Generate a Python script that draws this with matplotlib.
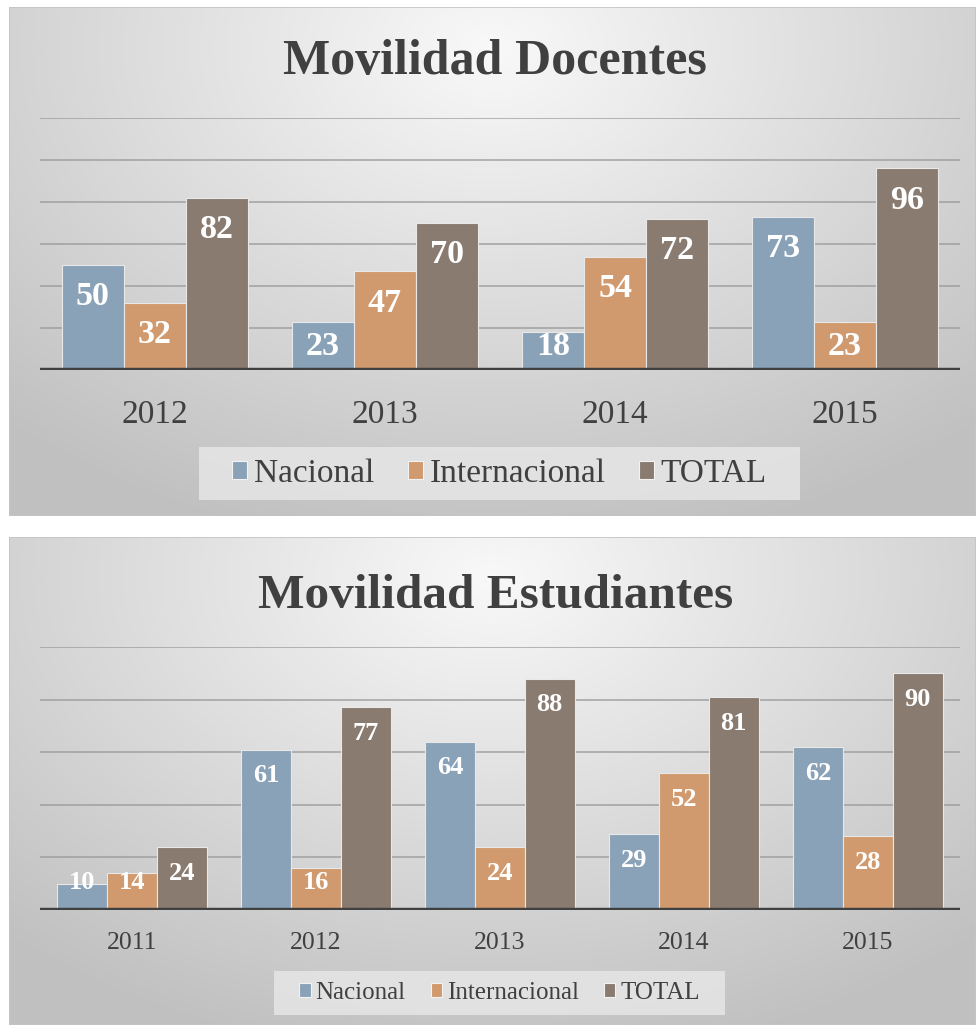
import numpy as np
import matplotlib.pyplot as plt
from matplotlib.patches import Rectangle, Patch

W, H = 978, 1025

series = ['Nacional', 'Internacional', 'TOTAL']
colores = ['#8aa2b8', '#d09a6e', '#8a7b70']

# Movilidad Docentes
doc_anios = ['2012', '2013', '2014', '2015']
doc_nacional = [50, 23, 18, 73]
doc_internacional = [32, 47, 54, 23]
doc_total = [82, 70, 72, 96]

# Movilidad Estudiantes
est_anios = ['2011', '2012', '2013', '2014', '2015']
est_nacional = [10, 61, 64, 29, 62]
est_internacional = [14, 16, 24, 52, 28]
est_total = [24, 77, 88, 81, 90]

plt.rcParams['font.family'] = ['Liberation Serif', 'DejaVu Serif']
texto = '#404040'

fig = plt.figure(figsize=(W / 100, H / 100), dpi=100)


def caja(x0, y0, x1, y1):
    # pixeles (origen arriba a la izquierda) -> fraccion de figura
    return [x0 / W, 1 - y1 / H, (x1 - x0) / W, (y1 - y0) / H]


def fondo(x0, y0, x1, y1):
    ax = fig.add_axes(caja(x0, y0, x1, y1), zorder=0)
    yy, xx = np.mgrid[0:1:300j, 0:1:300j]
    d = np.sqrt(((xx - 0.5) / 0.75) ** 2 + ((yy - 0.08) / 1.0) ** 2)
    g = 0.975 - 0.22 * np.clip(d, 0, 1)
    ax.imshow(np.dstack([g, g, g]), aspect='auto', extent=[0, 1, 1, 0],
              interpolation='bilinear')
    ax.add_patch(Rectangle((0, 0), 1, 1, transform=ax.transAxes, fill=False,
                           edgecolor='#c4c4c4', lw=1.2))
    ax.set_axis_off()


def grafico(marco, ejes, anios, valores, ymax, titulo, y_tit, fs_tit, fs_tick,
            pad_tick, fs_val, off, minimo, leg, fs_leg):
    fondo(*marco)
    ax = fig.add_axes(caja(*ejes), zorder=1)
    ax.patch.set_alpha(0)
    x = np.arange(len(anios))
    w = 0.27
    for i, (vals, c) in enumerate(zip(valores, colores)):
        pos = x + (i - 1) * w
        ax.bar(pos, vals, w, color=c, edgecolor='#e8e8e8', linewidth=0.8, zorder=2)
        for p, v in zip(pos, vals):
            ax.text(p, max(v - off, minimo), str(v), ha='center', va='center',
                    color='white', fontweight='bold', fontsize=fs_val, zorder=4)
    ax.set_xlim(-0.5, len(anios) - 0.5)
    ax.set_ylim(0, ymax)
    ax.set_yticks(np.arange(20, ymax + 1, 20))
    ax.yaxis.grid(True, color='#999999', lw=1.3, alpha=0.75)
    ax.set_axisbelow(True)
    ax.tick_params(axis='y', length=0, labelleft=False)
    ax.set_xticks(x)
    ax.set_xticklabels(anios, fontsize=fs_tick, color=texto)
    ax.tick_params(axis='x', length=0, pad=pad_tick)
    for s in ax.spines.values():
        s.set_visible(False)
    ax.axhline(0, color='#404040', lw=3.2, zorder=3)

    fig.text((marco[0] + marco[2]) / 2 / W + 0.003, 1 - y_tit / H, titulo,
             ha='center', va='baseline', fontsize=fs_tit, fontweight='bold',
             color=texto, zorder=5)

    lx0, ly0, lx1, ly1 = leg
    r = caja(lx0, ly0, lx1, ly1)
    fig.add_artist(Rectangle((r[0], r[1]), r[2], r[3], transform=fig.transFigure,
                             facecolor='#e6e6e6', edgecolor='none', alpha=0.85,
                             zorder=2))
    handles = [Patch(facecolor=c, edgecolor='#f2f2f2', lw=0.8) for c in colores]
    lg = fig.legend(handles, series, loc='center',
                    bbox_to_anchor=((lx0 + lx1) / 2 / W, 1 - (ly0 + ly1) / 2 / H),
                    ncol=3, frameon=False, fontsize=fs_leg, handlelength=0.45,
                    handleheight=0.45, handletextpad=0.2, columnspacing=1.0,
                    labelcolor=texto)
    lg.set_zorder(6)


grafico((9, 7, 976, 516), (40, 118, 960, 370), doc_anios,
        [doc_nacional, doc_internacional, doc_total], 120,
        'Movilidad Docentes', 74, 36, 24, 21.5, 24.5, 15.2, 11.2,
        (199, 447, 800, 500), 24)

grafico((9, 537, 976, 1025), (40, 647, 960, 910), est_anios,
        [est_nacional, est_internacional, est_total], 100,
        'Movilidad Estudiantes', 608, 35.5, 18.5, 15.5, 19, 10, 10.5,
        (274, 971, 725, 1015), 18)

fig.savefig('out.png', dpi=100)
